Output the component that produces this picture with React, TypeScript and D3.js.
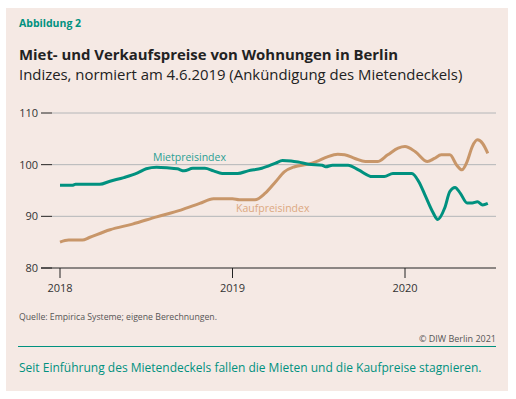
import React, { useEffect, useRef } from 'react';
import * as d3 from 'd3';

// decimal years
const mieteDates = [
  2018.0, 2018.07, 2018.09, 2018.23, 2018.29, 2018.37, 2018.45, 2018.5, 2018.56, 2018.62,
  2018.68, 2018.72, 2018.77, 2018.84, 2018.89, 2018.94, 2019.03, 2019.09, 2019.17, 2019.25,
  2019.29, 2019.34, 2019.38, 2019.44, 2019.52, 2019.54, 2019.58, 2019.67, 2019.73, 2019.81,
  2019.88, 2019.93, 2020.04, 2020.08, 2020.12, 2020.16, 2020.19, 2020.23, 2020.26, 2020.29,
  2020.32, 2020.36, 2020.39, 2020.42, 2020.45, 2020.48,
];
const mieteValues = [
  96.0, 96.0, 96.2, 96.2, 96.8, 97.5, 98.4, 99.2, 99.5, 99.4,
  99.2, 98.8, 99.3, 99.3, 98.8, 98.3, 98.3, 98.8, 99.3, 100.3,
  100.8, 100.7, 100.5, 100.1, 99.9, 99.6, 99.9, 99.9, 99.0, 97.7,
  97.7, 98.3, 98.3, 96.7, 93.8, 90.9, 89.4, 91.6, 94.8, 95.6,
  94.5, 92.6, 92.6, 92.8, 92.2, 92.5,
];

const kaufDates = [
  2018.0, 2018.05, 2018.13, 2018.17, 2018.29, 2018.42, 2018.56, 2018.7, 2018.81, 2018.89,
  2019.0, 2019.04, 2019.13, 2019.19, 2019.25, 2019.3, 2019.36, 2019.44, 2019.5, 2019.55,
  2019.61, 2019.65, 2019.71, 2019.77, 2019.84, 2019.9, 2019.96, 2020.0, 2020.06, 2020.13,
  2020.17, 2020.21, 2020.26, 2020.3, 2020.33, 2020.36, 2020.39, 2020.42, 2020.45, 2020.48,
];
const kaufValues = [
  85.0, 85.4, 85.4, 85.9, 87.4, 88.5, 89.9, 91.2, 92.5, 93.4,
  93.4, 93.2, 93.2, 94.5, 96.7, 98.6, 99.6, 100.1, 100.8, 101.5,
  102.0, 101.9, 101.2, 100.6, 100.6, 101.9, 103.2, 103.5, 102.5, 100.6,
  101.2, 101.9, 101.9, 99.9, 99.0, 100.6, 103.5, 104.8, 104.1, 102.2,
];

const yTicks = [80, 90, 100, 110];
const xTicks = [2018, 2019, 2020];

const TEAL = '#00917f';
const TAN = '#c89669';
const FONT = '"Open Sans", sans-serif';

const App: React.FC = () => {
  const svgRef = useRef<SVGSVGElement>(null);

  useEffect(() => {
    if (!svgRef.current) return;
    const svg = d3.select(svgRef.current);
    svg.selectAll('*').remove();

    // panel background
    svg.append('rect')
      .attr('x', 6).attr('y', 8).attr('width', 502).attr('height', 383)
      .attr('fill', '#f5e9e4');

    svg.append('text')
      .attr('x', 19).attr('y', 27)
      .attr('font-family', FONT).attr('font-size', 10.5).attr('font-weight', 700)
      .attr('fill', TEAL)
      .text('Abbildung 2');

    svg.append('text')
      .attr('x', 19).attr('y', 60)
      .attr('font-family', FONT).attr('font-size', 14.9).attr('font-weight', 700)
      .attr('fill', '#222')
      .text('Miet- und Verkaufspreise von Wohnungen in Berlin');

    svg.append('text')
      .attr('x', 19).attr('y', 80)
      .attr('font-family', FONT).attr('font-size', 14.9)
      .attr('fill', '#222')
      .text('Indizes, normiert am 4.6.2019 (Ankündigung des Mietendeckels)');

    // scales
    const x = d3.scaleLinear().domain([2018, 2020]).range([60, 405]);
    const y = d3.scaleLinear().domain([80, 110]).range([268, 113]);
    const left = 52;
    const right = 496;

    // grid lines
    svg.append('g')
      .selectAll('line')
      .data(yTicks.filter(t => t !== 80))
      .enter()
      .append('line')
      .attr('x1', left).attr('x2', right)
      .attr('y1', d => y(d)).attr('y2', d => y(d))
      .attr('stroke', '#b4b6b8').attr('stroke-width', 1);

    // y axis ticks + labels
    const yAxis = svg.append('g');
    yAxis.selectAll('line')
      .data(yTicks)
      .enter()
      .append('line')
      .attr('x1', 41).attr('x2', left)
      .attr('y1', d => y(d)).attr('y2', d => y(d))
      .attr('stroke', '#222').attr('stroke-width', 1);
    yAxis.selectAll('text')
      .data(yTicks)
      .enter()
      .append('text')
      .attr('x', 38).attr('y', d => y(d) + 4)
      .attr('text-anchor', 'end')
      .attr('font-family', FONT).attr('font-size', 11)
      .attr('fill', '#333')
      .text(d => d);

    // x axis
    const xAxis = svg.append('g');
    xAxis.append('line')
      .attr('x1', 41).attr('x2', right)
      .attr('y1', y(80)).attr('y2', y(80))
      .attr('stroke', '#222').attr('stroke-width', 1);
    xAxis.selectAll('line.tick')
      .data(xTicks)
      .enter()
      .append('line')
      .attr('class', 'tick')
      .attr('x1', d => x(d)).attr('x2', d => x(d))
      .attr('y1', y(80)).attr('y2', y(80) + 10)
      .attr('stroke', '#222').attr('stroke-width', 1);
    xAxis.selectAll('text')
      .data(xTicks)
      .enter()
      .append('text')
      .attr('x', d => x(d)).attr('y', 292)
      .attr('text-anchor', 'middle')
      .attr('font-family', FONT).attr('font-size', 11)
      .attr('fill', '#333')
      .text(d => d);

    // lines
    const line = d3.line<[number, number]>()
      .x(d => x(d[0]))
      .y(d => y(d[1]))
      .curve(d3.curveMonotoneX);

    const kauf = kaufDates.map((d, i) => [d, kaufValues[i]] as [number, number]);
    const miete = mieteDates.map((d, i) => [d, mieteValues[i]] as [number, number]);

    svg.append('path')
      .datum(kauf)
      .attr('fill', 'none')
      .attr('stroke', TAN)
      .attr('stroke-width', 3)
      .attr('stroke-linejoin', 'round')
      .attr('d', line);

    svg.append('path')
      .datum(miete)
      .attr('fill', 'none')
      .attr('stroke', TEAL)
      .attr('stroke-width', 3)
      .attr('stroke-linejoin', 'round')
      .attr('d', line);

    // series labels
    svg.append('text')
      .attr('x', 153).attr('y', 161)
      .attr('font-family', FONT).attr('font-size', 10.5)
      .attr('fill', '#2a9f93')
      .text('Mietpreisindex');

    svg.append('text')
      .attr('x', 236).attr('y', 212)
      .attr('font-family', FONT).attr('font-size', 10.5)
      .attr('fill', '#dca880')
      .text('Kaufpreisindex');

    // footer
    svg.append('text')
      .attr('x', 19).attr('y', 320)
      .attr('font-family', FONT).attr('font-size', 9)
      .attr('fill', '#555')
      .attr('textLength', 198).attr('lengthAdjust', 'spacingAndGlyphs')
      .text('Quelle: Empirica Systeme; eigene Berechnungen.');

    svg.append('text')
      .attr('x', 496).attr('y', 342)
      .attr('text-anchor', 'end')
      .attr('font-family', FONT).attr('font-size', 9)
      .attr('fill', '#555')
      .text('© DIW Berlin 2021');

    svg.append('line')
      .attr('x1', 18).attr('x2', 496)
      .attr('y1', 346.5).attr('y2', 346.5)
      .attr('stroke', TEAL).attr('stroke-width', 1.2);

    svg.append('text')
      .attr('x', 19).attr('y', 372)
      .attr('font-family', FONT).attr('font-size', 12)
      .attr('fill', TEAL)
      .text('Seit Einführung des Mietendeckels fallen die Mieten und die Kaufpreise stagnieren.');
  }, []);

  return (
    <svg
      ref={svgRef}
      width={516}
      height={399}
      style={{ position: 'absolute', left: 0, top: 0, background: '#fff' }}
    />
  );
};

export default App;
